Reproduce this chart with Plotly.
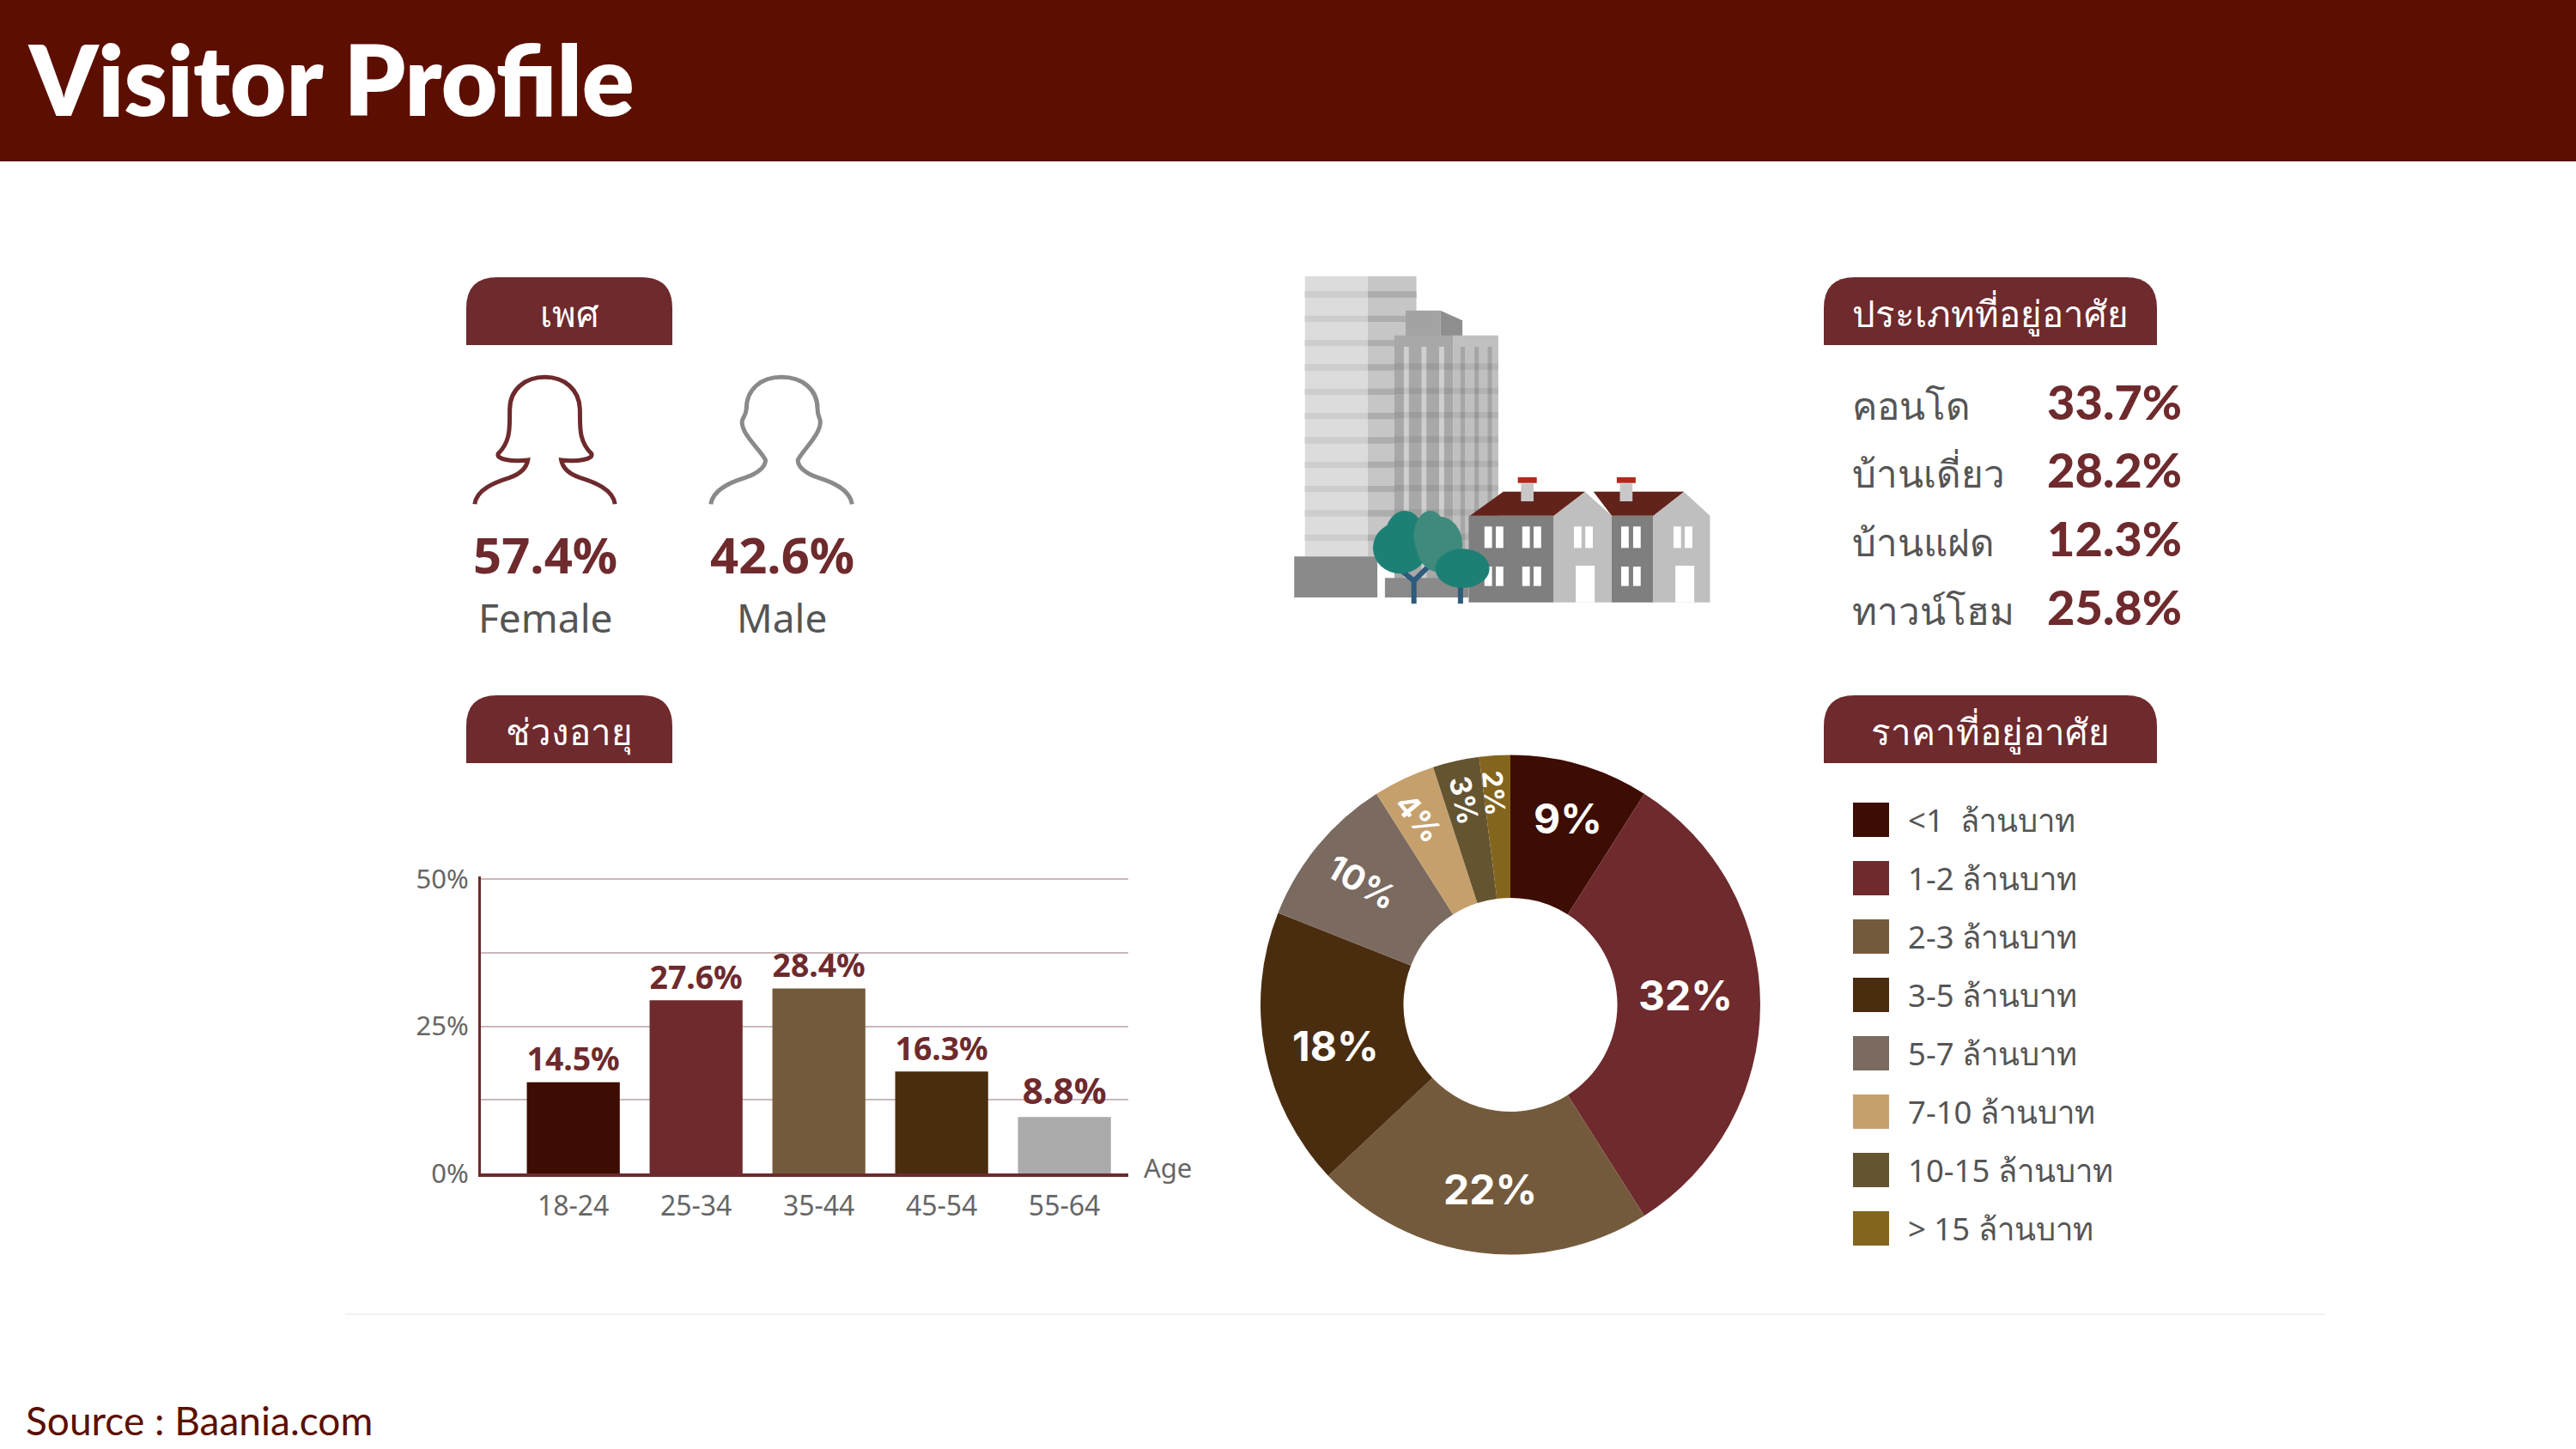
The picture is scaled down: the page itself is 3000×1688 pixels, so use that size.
import math
import plotly.graph_objects as go

W, H = 3000, 1688
MAROON = "#6e2a2d"; GREY_TXT = "#555555"
THAI = "Noto Sans, Noto Sans CJK SC, DejaVu Sans, sans-serif"
HEAD = "Lato, Inter, sans-serif"
BODY = "Noto Sans, Open Sans, sans-serif"

gender_labels = ["Female", "Male"]
gender_values = [57.4, 42.6]

housing_types = ["คอนโด", "บ้านเดี่ยว", "บ้านแฝด", "ทาวน์โฮม"]
housing_values = [33.7, 28.2, 12.3, 25.8]

age_groups = ["18-24", "25-34", "35-44", "45-54", "55-64"]
age_labels = ["14.5%", "27.6%", "28.4%", "16.3%", "8.8%"]
age_bar_heights = [15.5, 29.4, 31.4, 17.3, 9.6]
age_colors = ["#3d0c02", "#6e2a2d", "#745a3c", "#4a2d0f", "#ababab"]

price_groups = ["<1  ล้านบาท", "1-2 ล้านบาท", "2-3 ล้านบาท", "3-5 ล้านบาท", "5-7 ล้านบาท",
                "7-10 ล้านบาท", "10-15 ล้านบาท", "> 15 ล้านบาท"]
price_shares = [9, 32, 22, 18, 10, 4, 3, 2]
price_colors = ["#3d0c02", "#6e2a2d", "#745a3c", "#4a2d0f", "#7a6a60", "#c6a06c", "#655430", "#84651e"]


def X(x): return x / W
def Y(y): return 1 - y / H
def pt(x, y): return f"{X(x):.5f},{Y(y):.5f}"

shapes, annos = [], []


def rect(x0, y0, x1, y1, color, layer="below"):
    shapes.append(dict(type="rect", xref="paper", yref="paper", x0=X(x0), x1=X(x1), y0=Y(y0), y1=Y(y1),
                       fillcolor=color, line_width=0, layer=layer))


def poly(points, color):
    path = "M" + " L".join(pt(x, y) for x, y in points) + " Z"
    shapes.append(dict(type="path", xref="paper", yref="paper", path=path, fillcolor=color, line_width=0, layer="below"))


def ellipse(x0, y0, x1, y1, color):
    shapes.append(dict(type="circle", xref="paper", yref="paper", x0=X(x0), x1=X(x1), y0=Y(y0), y1=Y(y1),
                       fillcolor=color, line_width=0, layer="below"))


def text(x, y, s, size, color, family=BODY, anchor="left", weight="normal", angle=0):
    annos.append(dict(x=X(x), y=Y(y), xref="paper", yref="paper", text=s, showarrow=False, xanchor=anchor,
                      yanchor="middle", textangle=angle,
                      font=dict(size=size, color=color, family=family, weight=weight)))


def pill(x0, y0, x1, y1, label):
    r = 36
    path = (f"M{pt(x0, y1)} L{pt(x0, y0 + r)} Q{pt(x0, y0)} {pt(x0 + r, y0)} L{pt(x1 - r, y0)} "
            f"Q{pt(x1, y0)} {pt(x1, y0 + r)} L{pt(x1, y1)} Z")
    shapes.append(dict(type="path", xref="paper", yref="paper", path=path, fillcolor=MAROON, line_width=0, layer="below"))
    text((x0 + x1) / 2, (y0 + y1) / 2 + 2, label, 42, "white", THAI, "center")


# Banner, footer
rect(0, 0, W, 188, "#5c0f00")
text(30, 91, "Visitor Profile", 113, "white", HEAD, "left", 800)
text(28, 1654, "Source : Baania.com", 46, "#5c0f00", HEAD)
rect(402, 1530, 2708, 1532, "#f2f2f2")

# Section pills
pill(543, 323, 783, 402, "เพศ")
pill(543, 810, 783, 889, "ช่วงอายุ")
pill(2124, 323, 2512, 402, "ประเภทที่อยู่อาศัย")
pill(2124, 810, 2512, 889, "ราคาที่อยู่อาศัย")


# Person outlines (zoom-crop coordinates mapped to page pixels)
def zp(zx, zy, dx=0):
    return pt(440 + (zx + dx) / 1.568, 280 + zy / 3)


female = (f"M{zp(177,922)} C{zp(180,870)} {zp(215,845)} {zp(240,830)} C{zp(262,815)} {zp(272,790)} {zp(274,768)} "
          f"C{zp(245,775)} {zp(215,765)} {zp(220,745)} C{zp(245,700)} {zp(240,640)} {zp(241,590)} "
          f"C{zp(241,520)} {zp(270,478)} {zp(305,478)} C{zp(340,478)} {zp(368,520)} {zp(369,590)} "
          f"C{zp(370,640)} {zp(365,700)} {zp(390,745)} C{zp(395,765)} {zp(365,775)} {zp(335,768)} "
          f"C{zp(337,790)} {zp(347,815)} {zp(370,830)} C{zp(395,845)} {zp(430,870)} {zp(433,922)}")
male = (f"M{zp(608,922)} C{zp(612,870)} {zp(645,845)} {zp(670,830)} C{zp(695,815)} {zp(708,790)} {zp(708,768)} "
        f"C{zp(700,735)} {zp(665,680)} {zp(665,635)} C{zp(665,620)} {zp(672,615)} {zp(673,590)} "
        f"C{zp(673,520)} {zp(700,478)} {zp(737,478)} C{zp(775,478)} {zp(803,520)} {zp(803,590)} "
        f"C{zp(803,615)} {zp(808,620)} {zp(808,635)} C{zp(808,680)} {zp(775,735)} {zp(767,768)} "
        f"C{zp(767,790)} {zp(780,815)} {zp(805,830)} C{zp(830,845)} {zp(862,870)} {zp(866,922)}")
for path, color in ((female, MAROON), (male, "#8a8a8a")):
    shapes.append(dict(type="path", xref="paper", yref="paper", path=path, line=dict(color=color, width=5), layer="below"))

for cx, lab, val in zip((635, 911), gender_labels, gender_values):
    text(cx, 645, f"{val}%", 58, MAROON, BODY, "center", "bold")
    text(cx, 719, lab, 46, GREY_TXT, BODY, "center")


# Housing illustration (zoom-crop coordinates)
def bx(x): return 1450 + x / 1.363
def by(y): return 280 + y / 3


def zr(x0, y0, x1, y1, c): rect(bx(x0), by(y0), bx(x1), by(y1), c)
def zpoly(points, c): poly([(bx(x), by(y)) for x, y in points], c)
def ze(x0, y0, x1, y1, c): ellipse(bx(x0), by(y0), bx(x1), by(y1), c)


zr(95, 125, 195, 1105, "#dcdcdc")
zr(195, 125, 272, 1105, "#c6c6c6")
for y0 in range(178, 1040, 85):
    zr(95, y0, 195, y0 + 22, "#cdcdcd")
    zr(195, y0, 272, y0 + 22, "#adadad")
zr(255, 245, 310, 340, "#a3a3a3")
zpoly([(310, 245), (345, 280), (345, 340), (310, 340)], "#8f8f8f")
zr(237, 332, 330, 1190, "#a8a8a8")
zr(330, 332, 402, 1190, "#c0c0c0")
for x0 in (252, 280, 308):
    zr(x0, 372, x0 + 8, 1190, "#cfcfcf")
for x0 in (342, 364, 385):
    zr(x0, 372, x0 + 7, 1190, "#a6a6a6")
for y0 in range(430, 1190, 85):
    zr(237, y0, 402, y0 + 22, "rgba(0,0,0,0.07)")
zr(78, 1105, 210, 1248, "#8a8a8a")
zr(222, 1180, 355, 1248, "#8a8a8a")

zr(355, 962, 490, 1265, "#7f7f7f")
zr(582, 962, 648, 1265, "#7f7f7f")
zpoly([(490, 962), (540, 880), (582, 962), (582, 1265), (490, 1265)], "#bfbfbf")
zpoly([(648, 962), (697, 880), (738, 962), (738, 1265), (648, 1265)], "#bfbfbf")
zpoly([(357, 962), (410, 878), (540, 878), (490, 962)], "#62231b")
zpoly([(553, 878), (697, 878), (648, 962), (582, 962)], "#62231b")
for x0, x1 in ((438, 458), (595, 615)):
    zr(x0, 850, x1, 912, "#c8c8c8")
    zr(x0 - 5, 828, x1 + 5, 848, "#b5281c")
for x0 in (380, 398, 440, 458, 597, 616):
    zr(x0, 1000, x0 + 12, 1075, "white")
    zr(x0, 1140, x0 + 12, 1208, "white")
for x0 in (522, 540, 680, 698):
    zr(x0, 1000, x0 + 12, 1075, "white")
for x0 in (525, 683):
    zr(x0, 1137, x0 + 30, 1265, "white")

for path in (f"M{pt(bx(268), by(1270))} L{pt(bx(268), by(1190))} L{pt(bx(235), by(1130))}",
             f"M{pt(bx(268), by(1190))} L{pt(bx(300), by(1120))}",
             f"M{pt(bx(342), by(1270))} L{pt(bx(342), by(1210))} L{pt(bx(325), by(1180))}",
             f"M{pt(bx(342), by(1210))} L{pt(bx(362), by(1180))}"):
    shapes.append(dict(type="path", xref="paper", yref="paper", path=path,
                       line=dict(color="#2d5c7c", width=6), layer="below"))
ze(203, 985, 290, 1165, "#1d8074")
ze(222, 945, 285, 1130, "#1d8074")
ze(268, 945, 320, 1120, "#3f8a7c")
ze(272, 965, 345, 1160, "#3f8a7c")
ze(302, 1078, 388, 1215, "#1d8074")

# Housing type list
for y, lab, val in zip((473, 552, 632, 712), housing_types, housing_values):
    text(2155, y - 1, lab, 44, GREY_TXT, THAI)
    text(2382, y - 6, f"{val}%", 56, MAROON, HEAD, "left", 900)

# Price legend
for i, (lab, col) in enumerate(zip(price_groups, price_colors)):
    yc = 955 + i * 68
    rect(2158, yc - 20, 2200, yc + 20, col)
    text(2220, yc, lab, 36.5, GREY_TXT, THAI)

# Bar chart
bar = go.Bar(x=list(range(5)), y=age_bar_heights, marker=dict(color=age_colors, line_width=0), width=0.757,
             text=age_labels, textposition="outside", cliponaxis=False, showlegend=False,
             textfont=dict(size=42, color=MAROON, family=BODY, weight="bold"))

# Donut
donut = go.Pie(labels=price_groups, values=price_shares, sort=False, direction="clockwise", rotation=0, hole=0.428,
               marker=dict(colors=price_colors, line_width=0), textinfo="none", showlegend=False,
               domain=dict(x=[X(1468), X(2050)], y=[Y(1462), Y(879)]))

label_radius = [226, 204, 217, 211, 227, 245, 246, 249]
label_size = [48, 48, 48, 48, 40, 36, 34, 32]
label_angle = [0, 0, 0, 0, 30, 50, 78, 85]
label_dx = [4, 0, 4, 4, 2, -2, 0, -4]
label_dy = [0, -11, 0, 8, 2, 4, 2, 2]
cum = 0
for v, r, s, a, dx, dy in zip(price_shares, label_radius, label_size, label_angle, label_dx, label_dy):
    mid = (cum + v / 2) / 100 * 2 * math.pi
    cum += v
    text(1759 + r * math.sin(mid) + dx, 1170.5 - r * math.cos(mid) + dy, f"{v}%", s, "white",
         "Inter, sans-serif", "center", "bold", a)

text(1330, 1360, "Age", 31, "#666666", BODY)

fig = go.Figure([bar, donut])
fig.update_layout(
    width=W, height=H, margin=dict(l=0, r=0, t=0, b=0, autoexpand=False), paper_bgcolor="white", plot_bgcolor="white",
    shapes=shapes, annotations=annos,
    xaxis=dict(domain=[X(560), X(1314)], range=[-0.753, 4.52], tickvals=list(range(5)), ticktext=age_groups,
               showgrid=False, showline=True, linecolor=MAROON, linewidth=4, ticks="", automargin=False,
               tickfont=dict(size=32, color="#666666", family=BODY), zeroline=False, ticklabelstandoff=7),
    yaxis=dict(domain=[Y(1367), Y(1021)], range=[0, 50.44], tickvals=[0, 12.5, 25, 37.5, 50],
               ticktext=["0%", "", "25%", "", "50%"], showgrid=True, gridcolor="#cbb8bb", gridwidth=2,
               showline=True, linecolor=MAROON, linewidth=3, ticks="", zeroline=False, automargin=False,
               tickfont=dict(size=31, color="#666666", family=BODY), ticklabelstandoff=5),
)
fig.write_html("out.html", config={"displayModeBar": False}, post_script="document.body.style.margin='0';")
